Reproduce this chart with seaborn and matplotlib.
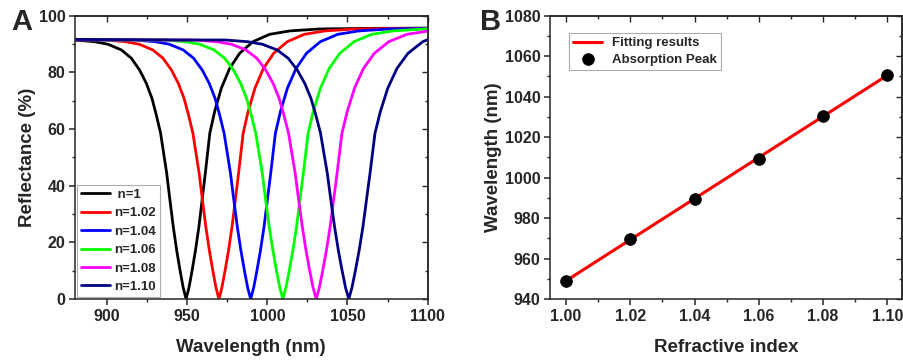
import numpy as np
import pandas as pd
import seaborn as sns
import matplotlib.pyplot as plt
from matplotlib.ticker import MultipleLocator

# ---- panel A: reflectance spectra ----
labels = [" n=1", "n=1.02", "n=1.04", "n=1.06", "n=1.08", "n=1.10"]
colors = ["#000000", "#ff0000", "#0000ff", "#00ff00", "#ff00ff", "#000080"]
dip_centers = [949.3, 969.8, 989.6, 1009.7, 1030.5, 1050.8]

profile_offset = [-155, -120, -90, -69.5, -57, -48.7, -40.4, -34.2, -29, -24.8,
                  -21.3, -18.6, -15.9, -12.1, -10.1, -8.0, -5.9, -3.8, -1.8, 0,
                  1.8, 3.8, 5.9, 8.0, 10.0, 12.0, 14.8, 17.8, 22.0, 27.2, 33.4,
                  41.7, 52.1, 64.6, 83.3, 112, 155]
profile_refl = [91.6, 91.5, 91.4, 91.4, 90.8, 89.9, 87.9, 85.0, 80.8, 76.1,
                70.8, 65.0, 58.5, 44.4, 35.0, 25.5, 17.3, 10.2, 4.0, 0.0,
                4.0, 10.2, 17.3, 25.5, 35.0, 44.4, 58.5, 66.1, 74.4, 81.4, 86.7,
                90.8, 93.4, 94.6, 95.3, 95.5, 95.6]

# ---- panel B: peak position vs refractive index ----
ref_index = [1.00, 1.02, 1.04, 1.06, 1.08, 1.10]
peak_wl = [948.9, 969.5, 989.3, 1009.4, 1030.3, 1050.7]
fit_x = [1.00, 1.10]
fit_y = [949.0, 1050.5]

sns.set_style("ticks")
plt.rcParams["font.family"] = ["Liberation Sans", "DejaVu Sans"]
plt.rcParams["font.weight"] = "bold"
plt.rcParams["axes.labelweight"] = "bold"
plt.rcParams["axes.linewidth"] = 1.1

fig = plt.figure(figsize=(9.04, 3.61), dpi=100)
ax1 = fig.add_axes([0.083, 0.1717, 0.390, 0.785])
ax2 = fig.add_axes([0.6084, 0.1717, 0.389, 0.785])

rows = []
for lab, c in zip(labels, dip_centers):
    scale = c / dip_centers[0]
    for o, r in zip(profile_offset, profile_refl):
        rows.append({"curve": lab, "wl": c + o * scale, "R": r})
spectra = pd.DataFrame(rows)

for lab, col in zip(labels, colors):
    sub = spectra[spectra["curve"] == lab]
    sns.lineplot(data=sub, x="wl", y="R", color=col, lw=2.0, label=lab,
                 sort=False, ax=ax1)

ax1.set_xlim(880, 1100)
ax1.set_ylim(0, 100)
ax1.xaxis.set_major_locator(MultipleLocator(50))
ax1.xaxis.set_minor_locator(MultipleLocator(25))
ax1.yaxis.set_major_locator(MultipleLocator(20))
ax1.yaxis.set_minor_locator(MultipleLocator(10))
ax1.set_xlabel("Wavelength (nm)", fontsize=13.5, fontweight="bold", labelpad=11)
ax1.set_ylabel("Reflectance (%)", fontsize=13.5, fontweight="bold", labelpad=2)

leg1 = ax1.legend(loc="lower left", fontsize=9.5, frameon=True, fancybox=False,
                  handlelength=2.2, handletextpad=0.3, labelspacing=0.47,
                  borderpad=0.3, borderaxespad=0.15, edgecolor="#999999")
leg1.get_frame().set_linewidth(0.8)
for t in leg1.get_texts():
    t.set_fontweight("bold")

sns.lineplot(x=fit_x, y=fit_y, color="#ff0000", lw=2.2, label="Fitting results", ax=ax2)
sns.scatterplot(x=ref_index, y=peak_wl, color="black", s=70, edgecolor="black",
                label="Absorption Peak", zorder=3, ax=ax2)
ax2.set_xlim(0.995, 1.1045)
ax2.set_ylim(940, 1080)
ax2.xaxis.set_major_locator(MultipleLocator(0.02))
ax2.xaxis.set_minor_locator(MultipleLocator(0.01))
ax2.yaxis.set_major_locator(MultipleLocator(20))
ax2.yaxis.set_minor_locator(MultipleLocator(10))
ax2.xaxis.set_major_formatter(plt.FormatStrFormatter("%.2f"))
ax2.set_xlabel("Refractive index", fontsize=13.5, fontweight="bold", labelpad=11)
ax2.set_ylabel("Wavelength (nm)", fontsize=13.5, fontweight="bold", labelpad=2)

leg2 = ax2.legend(loc="upper left", fontsize=9.5, frameon=True, fancybox=False,
                  handlelength=2.2, handletextpad=0.75, labelspacing=0.3,
                  borderpad=0.3, borderaxespad=0.0, edgecolor="#999999",
                  bbox_to_anchor=(0.055, 0.938))
leg2.get_frame().set_linewidth(0.8)
for t in leg2.get_texts():
    t.set_fontweight("bold")

for ax in (ax1, ax2):
    ax.tick_params(which="major", direction="out", length=4, width=1.1,
                   labelsize=11.5, pad=3)
    ax.tick_params(which="minor", direction="out", length=2.5, width=1.0)
    for lab in ax.get_xticklabels() + ax.get_yticklabels():
        lab.set_fontweight("bold")
    top = ax.secondary_xaxis("top")
    top.set_xticks(ax.get_xticks())
    top.xaxis.set_minor_locator(ax.xaxis.get_minor_locator())
    top.tick_params(which="both", direction="in", labeltop=False, width=1.0)
    top.tick_params(which="major", length=4)
    top.tick_params(which="minor", length=2.5)
    right = ax.secondary_yaxis("right")
    right.set_yticks(ax.get_yticks())
    right.yaxis.set_minor_locator(ax.yaxis.get_minor_locator())
    right.tick_params(which="both", direction="in", labelright=False, width=1.0)
    right.tick_params(which="major", length=4)
    right.tick_params(which="minor", length=2.5)

fig.text(0.012, 0.938, "A", fontsize=21, fontweight="bold", va="center")
fig.text(0.531, 0.938, "B", fontsize=21, fontweight="bold", va="center")

fig.savefig("out.png", dpi=100)
